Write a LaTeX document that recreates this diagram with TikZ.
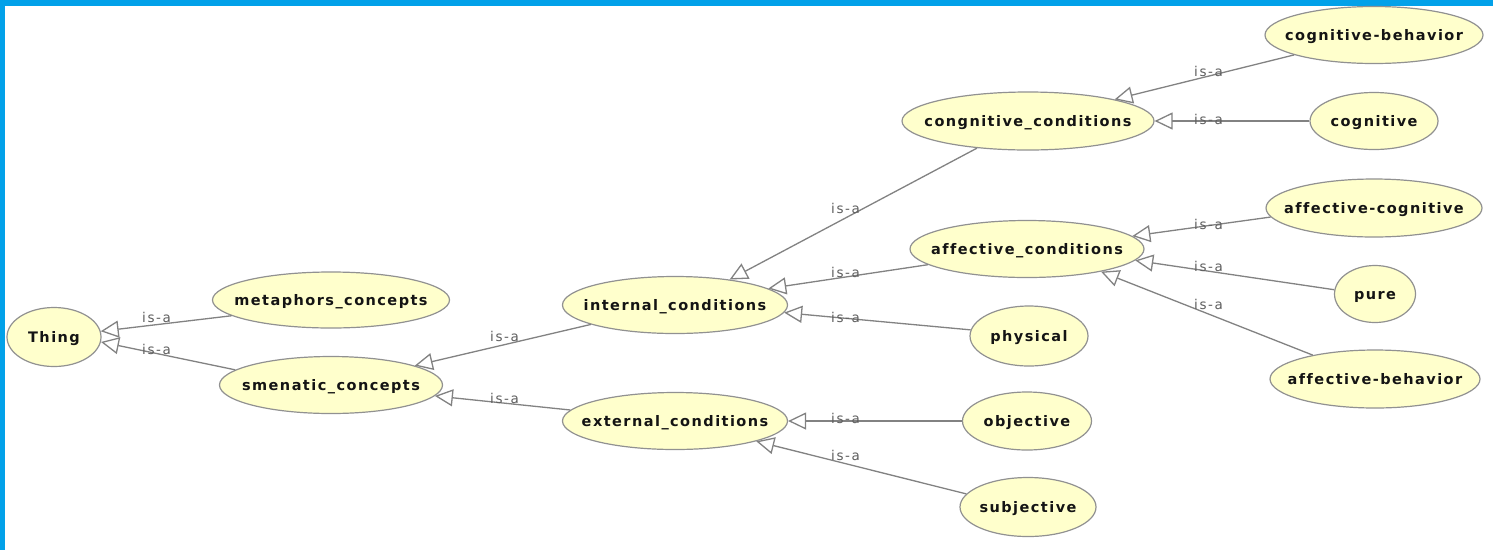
\documentclass[tikz,border=0pt]{standalone}
\usepackage{fontspec}
\setmainfont{DejaVu Sans}
\newfontfamily\nodefont[LetterSpace=10,Ligatures=NoCommon]{DejaVu Sans Bold}
\newfontfamily\labelfont[LetterSpace=12,Ligatures=NoCommon]{DejaVu Sans}
\usetikzlibrary{shapes.geometric,arrows.meta}
\definecolor{frameblue}{RGB}{2,161,233}
\definecolor{nodefill}{RGB}{255,255,204}
\definecolor{nodeline}{RGB}{145,145,145}
\definecolor{edgeline}{RGB}{130,130,130}
\definecolor{labelgray}{RGB}{95,95,95}
\definecolor{nodetext}{RGB}{20,20,20}
\newcommand\cname[1]{\makebox[0pt]{#1}}
\tikzset{
  cls/.style={ellipse, draw=nodeline, fill=nodefill, line width=1.2pt, inner sep=0pt,
    text height=10pt, text depth=0pt,
    font=\nodefont\fontsize{14.5}{16}\selectfont, text=nodetext},
  isa/.style={draw=edgeline, line width=1.3pt, -{Triangle[open,length=18pt,width=17pt]}},
  isalabel/.style={anchor=base west, inner sep=0pt, text=labelgray,
    font=\labelfont\fontsize{13.5}{15}\selectfont}
}
\begin{document}
\begin{tikzpicture}[x=1pt,y=-1pt]
\useasboundingbox (0,0) rectangle (1493,550);
\fill[white] (0,0) rectangle (1493,550);
\fill[frameblue] (0,0) rectangle (1493,6);
\fill[frameblue] (0,0) rectangle (5,550);

% nodes
\node[cls, minimum width=94pt, minimum height=59pt] (thing) at (54,337) {\cname{Thing}};
\node[cls, minimum width=237pt, minimum height=56pt] (meta) at (331,300) {\cname{metaphors\_concepts}};
\node[cls, minimum width=223pt, minimum height=57pt] (sem) at (331,385) {\cname{smenatic\_concepts}};
\node[cls, minimum width=225pt, minimum height=57pt] (int) at (675,305) {\cname{internal\_conditions}};
\node[cls, minimum width=225pt, minimum height=57pt] (ext) at (675,421) {\cname{external\_conditions}};
\node[cls, minimum width=252pt, minimum height=58pt] (cogc) at (1028,121) {\cname{congnitive\_conditions}};
\node[cls, minimum width=234pt, minimum height=57pt] (affc) at (1027,249) {\cname{affective\_conditions}};
\node[cls, minimum width=118pt, minimum height=60pt] (phys) at (1029,336) {\cname{physical}};
\node[cls, minimum width=129pt, minimum height=58pt] (obj) at (1027,421) {\cname{objective}};
\node[cls, minimum width=136pt, minimum height=59pt] (subj) at (1028,507) {\cname{subjective}};
\node[cls, minimum width=218pt, minimum height=57pt] (cogb) at (1374,35) {\cname{cognitive-behavior}};
\node[cls, minimum width=128pt, minimum height=57pt] (cog) at (1374,121) {\cname{cognitive}};
\node[cls, minimum width=216pt, minimum height=58pt] (affcog) at (1374,208) {\cname{affective-cognitive}};
\node[cls, minimum width=81pt, minimum height=57pt] (pure) at (1375,294) {\cname{pure}};
\node[cls, minimum width=210pt, minimum height=58pt] (affb) at (1375,379) {\cname{affective-behavior}};

% edges
\draw[isa] (meta.189) -- (thing.7);
\draw[isa] (sem.171) -- (thing.-6);
\draw[isa] (int.193) -- (sem.13);
\draw[isa] (ext.174) -- (sem.-6);
\draw[isa] (cogc.208) -- (int.25);
\draw[isa] (affc.189) -- (int.10);
\draw[isa] (phys.174) -- (int.-4);
\draw[isa] (obj.180) -- (ext.0);
\draw[isa] (subj.168) -- (ext.-14);
\draw[isa] (cogb.194) -- (cogc.14);
\draw[isa] (cog.180) -- (cogc.0);
\draw[isa] (affcog.185) -- (affc.7);
\draw[isa] (pure.174) -- (affc.-6);
\draw[isa] (affb.159) -- (affc.-17);

% labels
\node[isalabel] (l1) at (142,322) {is-a};
\node[isalabel] (l2) at (142,354) {is-a};
\node[isalabel] (l3) at (490,341) {is-a};
\node[isalabel] (l4) at (490,403) {is-a};
\node[isalabel] (l5) at (831,213) {is-a};
\node[isalabel] (l6) at (831,277) {is-a};
\node[isalabel] (l7) at (831,322) {is-a};
\node[isalabel] (l8) at (831,423) {is-a};
\node[isalabel] (l9) at (831,460) {is-a};
\node[isalabel] (l10) at (1194,76) {is-a};
\node[isalabel] (l11) at (1194,124) {is-a};
\node[isalabel] (l12) at (1194,229) {is-a};
\node[isalabel] (l13) at (1194,271) {is-a};
\node[isalabel] (l14) at (1194,309) {is-a};
\end{tikzpicture}
\end{document}
